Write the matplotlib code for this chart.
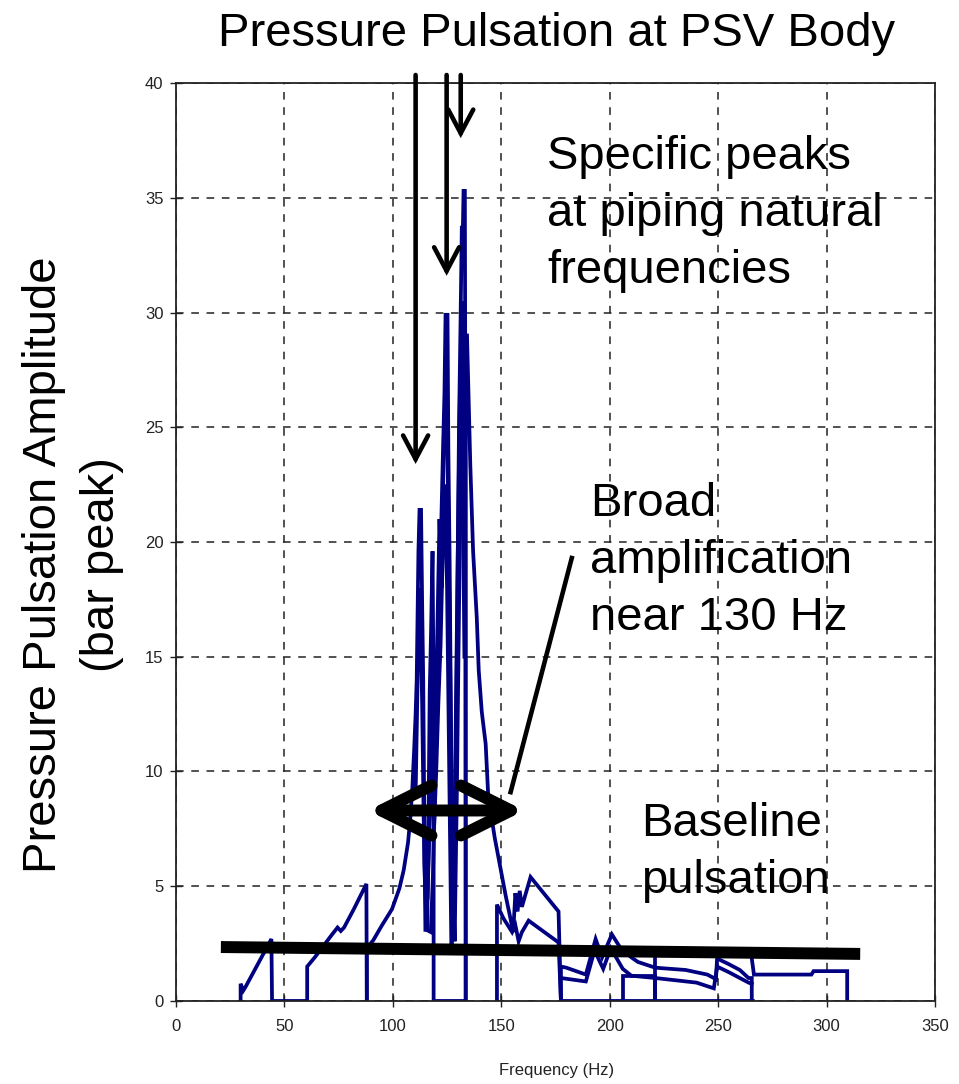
"""
Pressure pulsation spectrum at the PSV body, with annotations.
"""

import matplotlib
matplotlib.use("Agg")
import matplotlib.pyplot as plt

plt.rcParams['font.family'] = ['Liberation Sans', 'DejaVu Sans']

# traces (frequency in Hz, amplitude in bar peak)
low_f = [29.8, 29.8, 31, 32, 36, 40, 44, 44.3, 60.5, 60.5, 64, 68, 72, 74.5, 76,
         77.5, 82, 87.8, 88]
low_a = [0, 0.75, 0.45, 0.6, 1.3, 2.0, 2.7, 0, 0, 1.5, 1.9, 2.4, 2.9, 3.2, 3.05,
         3.2, 4.0, 5.1, 0]

main_f = [88, 88, 91, 95, 99.6, 103, 105, 107, 108, 109, 109.8, 110.5, 111, 111.8,
          112.3, 113, 113.5, 114, 114.5, 115, 115.8, 116.5, 117, 117.6, 118.3, 118.8,
          118.8, 133.6, 133.6, 134.2, 135.7, 137, 138.7, 139.6, 141, 142.8, 144, 147,
          150, 152, 154, 155.5, 156.5, 157.5, 158.5, 159.5, 163.5, 176.4, 177.5,
          206, 221, 266]
main_a = [0, 2.3, 2.65, 3.3, 4.0, 4.9, 5.7, 6.9, 7.9, 9.3, 10.9, 12.5, 14.0, 19.6,
          21.4, 21.4, 17.4, 14.0, 8.0, 3.1, 3.1, 8.5, 13.5, 16.0, 19.6, 13.0,
          0, 0, 29.0, 29.0, 23.4, 19.6, 16.7, 14.4, 12.6, 11.2, 8.9, 7.1,
          5.6, 4.6, 3.7, 3.0, 4.7, 3.9, 4.8, 4.1, 5.4, 3.9, 0,
          0, 0, 0]

peak_f = [115.5, 117.5, 118.5, 119.5, 120.5, 121.3, 122, 123, 123.8, 124.3, 125.2,
          125.6, 126.2, 126.8, 127.5, 128.3, 129, 129.8, 130.5, 131.2, 131.8, 132.3,
          132.6, 133.2, 133.4, 133.6]
peak_a = [3.1, 3.0, 5.5, 9.5, 13.5, 17.0, 19.5, 23.5, 26.5, 29.9, 29.9,
          24.0, 19.0, 12.0, 3.5, 3.0, 10.0, 18.0, 25.0, 29.5, 33.7, 33.7,
          35.3, 35.3, 27.0, 0]

inner_f = [110.5, 111.5, 112.5, 113.5, 114.5, 115.5, 116.5, 117.5, 118.5, 119.5,
           120.5, 121.5, 122.5, 123.5, 124.5, 125.5, 126.5, 127.5, 128.5, 129.5,
           130.5, 131.5, 132.5, 133.3]
inner_a = [9.0, 14.5, 18.0, 13.0, 6.0, 3.3, 6.5, 10.5, 14.0, 12.0, 16.0, 21.0,
           18.0, 24.5, 27.0, 22.0, 14.0, 6.0, 2.6, 9.0, 17.0, 24.0, 30.5, 22.0]

inner2_f = [116.0, 117.0, 118.0, 119.0, 120.0, 121.0, 122.0, 123.0, 124.0, 125.0,
            126.0, 127.0, 128.0, 129.0, 130.0, 131.0, 132.0, 133.0]
inner2_a = [4.5, 8.0, 11.0, 7.5, 10.0, 13.0, 15.5, 19.5, 22.5, 18.0, 10.0, 2.2,
            4.0, 12.0, 20.0, 27.0, 25.0, 15.0]

mid_f = [148, 148, 151, 155, 156.5, 158, 159.5, 162.6, 176.4, 177.5]
mid_a = [0, 4.2, 3.6, 3.0, 3.3, 2.6, 3.0, 3.5, 2.55, 0]

upper_tail_f = [177.5, 177.5, 180, 189, 193.5, 196.5, 201, 205, 210, 213, 221, 235,
                245, 249, 249.5, 255, 260, 264, 265.5, 265.5]
upper_tail_a = [0, 1.5, 1.45, 1.15, 2.7, 1.9, 2.9, 2.3, 1.9, 1.7, 1.45, 1.35,
                1.15, 0.95, 1.85, 1.6, 1.35, 1.0, 1.0, 0]

lower_tail_f = [177.5, 189, 193, 197, 200.5, 206, 210, 221, 240, 248, 249.5, 255,
                264, 265.5]
lower_tail_a = [1.0, 0.85, 2.2, 1.4, 2.3, 1.4, 1.1, 1.0, 0.8, 0.55, 1.5, 1.25,
                0.8, 0.75]

step_f = [206, 206, 221, 221, 221]
step_a = [0, 1.1, 1.1, 0, 1.85]

end_f = [265.5, 266.5, 293, 294, 309.5, 309.5]
end_a = [1.85, 1.15, 1.15, 1.3, 1.3, 0]

# annotation geometry (data units)
baseline_f = [20.7, 315.5]
baseline_a = [2.35, 2.05]
peak_arrows_f = [110.5, 124.8, 131.3]
peak_arrow_tips = [23.4, 31.6, 37.6]
arrow_top = 40.35


def main():
    fig = plt.figure(figsize=(9.59, 10.84), dpi=100)
    ax = fig.add_axes([0.1835, 0.0766, 0.7915, 0.8468])

    navy = '#000080'
    for f, a in [(low_f, low_a), (main_f, main_a), (peak_f, peak_a),
                 (inner_f, inner_a), (inner2_f, inner2_a), (mid_f, mid_a),
                 (upper_tail_f, upper_tail_a), (lower_tail_f, lower_tail_a),
                 (step_f, step_a), (end_f, end_a)]:
        ax.plot(f, a, color=navy, lw=2.7, solid_joinstyle='miter')

    ax.set_xlim(0, 350)
    ax.set_ylim(0, 40)
    ax.set_xticks(range(0, 351, 50))
    ax.set_yticks(range(0, 41, 5))
    ax.set_axisbelow(True)
    ax.grid(True, color='#222222', linestyle=(0, (5, 5)), lw=1.1)
    ax.tick_params(direction='inout', length=8, width=1, labelsize=12,
                   colors='#222222')
    ax.tick_params(axis='x', pad=9)
    ax.tick_params(axis='y', pad=5)
    for s in ax.spines.values():
        s.set_linewidth(1.3)
        s.set_color('#222222')

    # baseline bar
    ax.plot(baseline_f, baseline_a, color='k', lw=8.6, solid_capstyle='butt',
            clip_on=False, zorder=5)

    # arrows pointing at the piping peaks
    for x, tip in zip(peak_arrows_f, peak_arrow_tips):
        ax.annotate('', xy=(x, tip), xytext=(x, arrow_top), annotation_clip=False,
                    arrowprops=dict(arrowstyle='->,head_length=17,head_width=9',
                                    mutation_scale=1, lw=3.3, color='k',
                                    shrinkA=0, shrinkB=0, joinstyle='miter'))

    # broad amplification double arrow and pointer
    ax.annotate('', xy=(88.6, 8.3), xytext=(160.6, 8.3), annotation_clip=False,
                arrowprops=dict(arrowstyle='<->,head_length=36,head_width=18',
                                mutation_scale=1, lw=8.6, color='k',
                                shrinkA=0, shrinkB=0, capstyle='round',
                                joinstyle='round'), zorder=6)
    ax.plot([154.3, 182.5], [9.1, 19.3], color='k', lw=3.3, zorder=6)

    big = 34
    fig.text(557 / 959, 1 - 12 / 1084, 'Pressure Pulsation at PSV Body',
             ha='center', va='top', fontsize=big)
    fig.text(0.076, 0.479, 'Pressure Pulsation Amplitude\n(bar peak)',
             rotation=90, ha='center', va='center', multialignment='center',
             fontsize=big, linespacing=1.42)
    fig.text(547 / 959, 1 - 135 / 1084,
             'Specific peaks\nat piping natural\nfrequencies',
             ha='left', va='top', fontsize=big, linespacing=1.38)
    fig.text(590 / 959, 1 - 482 / 1084, 'Broad\namplification\nnear 130 Hz',
             ha='left', va='top', fontsize=big, linespacing=1.38)
    fig.text(641 / 959, 1 - 802 / 1084, 'Baseline\npulsation',
             ha='left', va='top', fontsize=big, linespacing=1.38)
    fig.text(557 / 959, 1 - 1070 / 1084, 'Frequency (Hz)', ha='center',
             va='center', fontsize=12, color='#222222')

    fig.savefig('out.png', dpi=100)
    plt.close(fig)


if __name__ == "__main__":
    main()
